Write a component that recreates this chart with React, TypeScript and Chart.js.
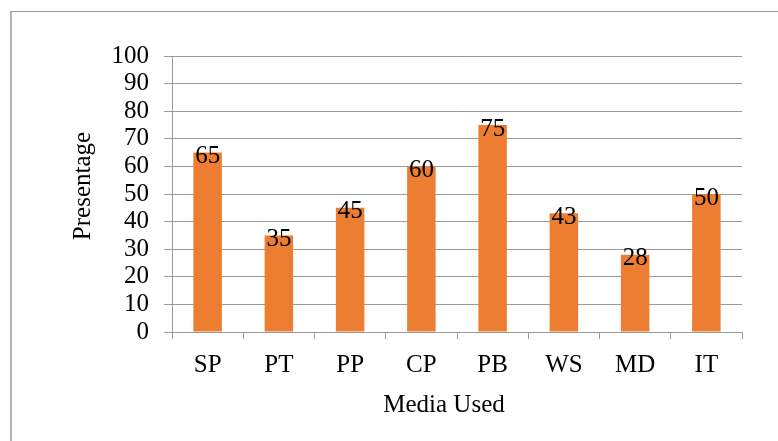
import React, { useEffect, useRef } from "react";
import { Chart, registerables } from "chart.js";

Chart.register(...registerables);

const categories = ["SP", "PT", "PP", "CP", "PB", "WS", "MD", "IT"];
const values = [65, 35, 45, 60, 75, 43, 28, 50];
const yTicks = [0, 10, 20, 30, 40, 50, 60, 70, 80, 90, 100];
const yTitle = "Presentage";
const xTitle = "Media Used";

const FONT = "'Liberation Serif', 'Times New Roman', serif";
const BAR = "#ED7D31";
const GRID = "#9a9a9a";

export default function App() {
  const ref = useRef<HTMLCanvasElement | null>(null);

  useEffect(() => {
    if (!ref.current) return;
    const extras = {
      id: "extras",
      beforeDraw(chart: any) {
        const ctx = chart.ctx;
        ctx.save();
        ctx.fillStyle = "#ffffff";
        ctx.fillRect(0, 0, chart.width, chart.height);
        ctx.fillStyle = "#b4b4b4";
        ctx.fillRect(10, 11, 2, chart.height - 11);
        ctx.fillStyle = "#9c9c9c";
        ctx.fillRect(10, 11, chart.width - 10, 1);
        ctx.restore();
      },
      afterDatasetsDraw(chart: any) {
        const ctx = chart.ctx;
        const meta = chart.getDatasetMeta(0);
        ctx.save();
        ctx.font = `25px ${FONT}`;
        ctx.fillStyle = "#000000";
        ctx.textAlign = "center";
        ctx.textBaseline = "middle";
        meta.data.forEach((bar: any, i: number) => {
          ctx.fillText(String(values[i]), bar.x, bar.y + 4);
        });
        // axis titles
        const area = chart.chartArea;
        ctx.fillText(xTitle, (area.left + area.right) / 2 - 13, 405);
        ctx.translate(83, (area.top + area.bottom) / 2 - 8);
        ctx.rotate(-Math.PI / 2);
        ctx.fillText(yTitle, 0, 0);
        ctx.restore();
      },
    };

    const chart = new Chart(ref.current, {
      type: "bar",
      data: {
        labels: categories,
        datasets: [
          {
            data: values,
            backgroundColor: BAR,
            borderWidth: 0,
            barPercentage: 0.4,
            categoryPercentage: 1,
          },
        ],
      },
      options: {
        responsive: false,
        animation: false,
        layout: { padding: { left: 0, right: 36, top: 56, bottom: 0 } },
        plugins: {
          legend: { display: false },
          tooltip: { enabled: false },
        },
        scales: {
          x: {
            grid: {
              display: true,
              drawOnChartArea: false,
              drawTicks: true,
              tickLength: 7,
              color: GRID,
              lineWidth: 1,
            },
            border: { display: true, color: GRID, width: 1 },
            ticks: {
              color: "#000000",
              font: { family: FONT, size: 25 },
              padding: 11,
              maxRotation: 0,
              autoSkip: false,
            },
            afterFit(scale: any) {
              scale.height = 109;
            },
          },
          y: {
            min: 0,
            max: 100,
            afterBuildTicks(scale: any) {
              scale.ticks = yTicks.map((v) => ({ value: v }));
            },
            grid: {
              drawOnChartArea: true,
              drawTicks: true,
              tickLength: 8,
              color: GRID,
              lineWidth: 1,
            },
            border: { display: true, color: GRID, width: 1 },
            ticks: {
              color: "#000000",
              font: { family: FONT, size: 25 },
              padding: 15,
              autoSkip: false,
            },
            afterFit(scale: any) {
              scale.width = 172;
            },
          },
        },
      },
      plugins: [extras],
    });
    return () => chart.destroy();
  }, []);

  return (
    <div style={{ position: "absolute", left: 0, top: 0, width: 778, height: 441 }}>
      <canvas ref={ref} width={778} height={441} style={{ width: 778, height: 441, display: "block" }} />
    </div>
  );
}
